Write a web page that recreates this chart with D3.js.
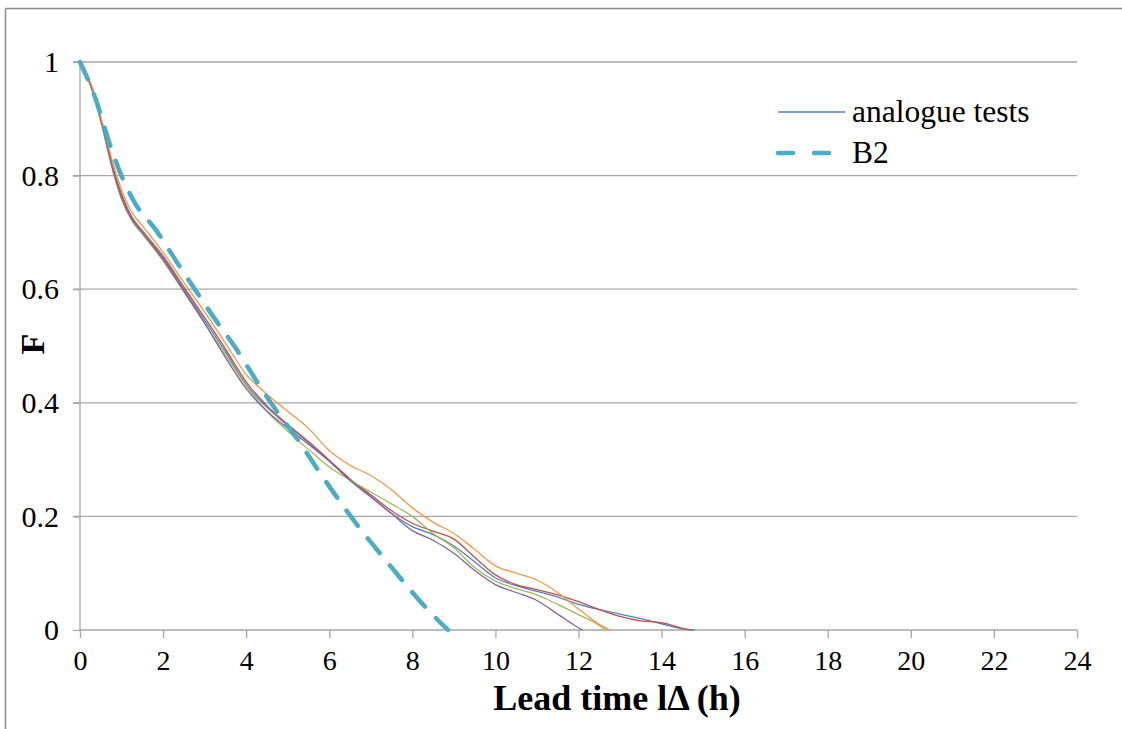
<!DOCTYPE html>
<html>
<head>
<meta charset="utf-8">
<script src="https://cdn.jsdelivr.net/npm/d3@7"></script>
<style>
  html, body { margin: 0; padding: 0; background: #fff; }
  svg { display: block; }
  text { font-family: "Liberation Serif", "Times New Roman", serif; fill: #000; }
</style>
</head>
<body>
<svg id="chart" width="1122" height="729"></svg>
<script>
// ---- data ----
const xTicks = [0, 2, 4, 6, 8, 10, 12, 14, 16, 18, 20, 22, 24];
const yTicks = [0, 0.2, 0.4, 0.6, 0.8, 1];
const yTickLabels = ["0", "0.2", "0.4", "0.6", "0.8", "1"];

const seriesNames = ["analogue test 1", "analogue test 2", "analogue test 3", "analogue test 4", "analogue test 5"];
const seriesColors = ["#4F81BD", "#C0504D", "#9BBB59", "#8064A2", "#F79646"];

const blueHours   = [0,0.3,0.55,0.8,1,1.25,1.5,2,2.5,3,3.5,4,4.5,5,5.5,6,6.5,7,7.5,8,8.5,9,9.5,10,10.5,11,11.5,12,12.5,13,13.5,14,14.5,14.8];
const blueF       = [1,0.95,0.884,0.81,0.765,0.725,0.70,0.655,0.60,0.545,0.49,0.432,0.392,0.36,0.33,0.298,0.265,0.235,0.205,0.182,0.168,0.148,0.12,0.092,0.078,0.068,0.058,0.045,0.036,0.028,0.02,0.011,0.002,0];

const redHours    = [0,0.3,0.55,0.8,1,1.25,1.5,2,2.5,3,3.5,4,4.5,5,5.5,6,6.5,7,7.5,8,8.5,9,9.5,10,10.5,11,11.5,12,12.5,13,13.5,14,14.5,14.7];
const redF        = [1,0.951,0.886,0.812,0.767,0.727,0.703,0.658,0.604,0.55,0.495,0.437,0.395,0.362,0.332,0.299,0.266,0.238,0.21,0.188,0.174,0.16,0.128,0.097,0.08,0.071,0.062,0.05,0.036,0.024,0.016,0.013,0.003,0];

const greenHours  = [0,0.3,0.55,0.8,1,1.25,1.5,2,2.5,3,3.5,4,4.5,5,5.5,6,6.5,7,7.5,8,8.5,9,9.5,10,10.5,11,11.5,12,12.5,12.65];
const greenF      = [1,0.948,0.88,0.805,0.758,0.72,0.697,0.65,0.595,0.54,0.485,0.43,0.385,0.35,0.318,0.287,0.264,0.243,0.222,0.2,0.17,0.145,0.11,0.086,0.073,0.062,0.045,0.027,0.008,0];

const purpleHours = [0,0.3,0.55,0.8,1,1.25,1.5,2,2.5,3,3.5,4,4.5,5,5.5,6,6.5,7,7.5,8,8.5,9,9.5,10,10.5,11,11.5,12,12.1];
const purpleF     = [1,0.95,0.883,0.808,0.762,0.723,0.70,0.652,0.597,0.54,0.48,0.425,0.385,0.355,0.327,0.297,0.263,0.234,0.205,0.175,0.158,0.135,0.105,0.08,0.066,0.052,0.028,0.004,0];

const orangeHours = [0,0.3,0.55,0.8,1,1.25,1.5,2,2.5,3,3.5,4,4.5,5,5.5,6,6.5,7,7.5,8,8.5,9,9.5,10,10.5,11,11.5,12,12.5,12.76];
const orangeF     = [1,0.955,0.89,0.82,0.775,0.735,0.712,0.665,0.612,0.56,0.505,0.45,0.415,0.385,0.355,0.316,0.29,0.272,0.247,0.215,0.19,0.17,0.142,0.113,0.1,0.088,0.066,0.037,0.01,0];

const b2Hours = [0,0.4,0.67,0.94,1.32,1.83,2.4,2.89,3.3,3.78,4.26,4.69,5.3,5.7,6.3,6.8,7.3,7.82,8.38,8.86];
const b2F     = [1,0.93,0.866,0.81,0.752,0.704,0.64,0.586,0.542,0.493,0.437,0.39,0.329,0.285,0.222,0.173,0.128,0.082,0.035,0];

const legendLabels = ["analogue tests", "B2"];
const b2Color = "#4BACC6";

// ---- chart ----
const svg = d3.select("#chart");
const plot = { left: 80, right: 1077, top: 62, bottom: 630 };

const x = d3.scaleLinear().domain([0, 24]).range([plot.left, plot.right]);
const y = d3.scaleLinear().domain([0, 1]).range([plot.bottom, plot.top]);

// outer frame (partially visible)
svg.append("line").attr("x1", 5.5).attr("x2", 1122).attr("y1", 8.5).attr("y2", 8.5)
  .attr("stroke", "#8c8c8c").attr("stroke-width", 1.5);
svg.append("line").attr("x1", 5.5).attr("x2", 5.5).attr("y1", 8.5).attr("y2", 729)
  .attr("stroke", "#8c8c8c").attr("stroke-width", 1.5);

// gridlines
svg.append("g").selectAll("line").data(yTicks.filter(d => d > 0)).join("line")
  .attr("x1", plot.left - 7).attr("x2", plot.right)
  .attr("y1", d => y(d)).attr("y2", d => y(d))
  .attr("stroke", "#a6a6a6").attr("stroke-width", 1.3);

// y axis
const yAxis = d3.axisLeft(y).tickValues(yTicks).tickFormat((d, i) => yTickLabels[i]).tickSize(7).tickPadding(14);
const gy = svg.append("g").attr("transform", `translate(${plot.left},0)`).call(yAxis);
gy.select(".domain").attr("stroke", "#a6a6a6").attr("stroke-width", 1.3).attr("d", `M-7,${plot.top}H0V${plot.bottom}`);
gy.selectAll(".tick line").attr("stroke", "#a6a6a6").attr("stroke-width", 1.3);
gy.selectAll(".tick text").attr("font-family", "Liberation Serif").attr("font-size", 30).attr("fill", "#000");

// x axis
const xAxis = d3.axisBottom(x).tickValues(xTicks).tickSize(8).tickPadding(12);
const gx = svg.append("g").attr("transform", `translate(0,${plot.bottom})`).call(xAxis);
gx.select(".domain").attr("stroke", "#a6a6a6").attr("stroke-width", 1.3).attr("d", `M${plot.left},0H${plot.right}`);
gx.selectAll(".tick line").attr("stroke", "#a6a6a6").attr("stroke-width", 1.3);
gx.selectAll(".tick text").attr("font-family", "Liberation Serif").attr("font-size", 28).attr("fill", "#000");

// series
const line = d3.line().x(d => x(d[0])).y(d => y(d[1])).curve(d3.curveMonotoneX);
const series = [
  [blueHours, blueF], [redHours, redF], [greenHours, greenF], [purpleHours, purpleF], [orangeHours, orangeF]
];
series.forEach((s, i) => {
  const pts = s[0].map((h, j) => [h, s[1][j]]);
  svg.append("path").datum(pts).attr("d", line)
    .attr("fill", "none").attr("stroke", seriesColors[i]).attr("stroke-width", 1.3)
    .attr("stroke-linejoin", "round");
});

// B2
const b2pts = b2Hours.map((h, j) => [h, b2F[j]]);
svg.append("path").datum(b2pts).attr("d", line)
  .attr("fill", "none").attr("stroke", b2Color).attr("stroke-width", 4.5)
  .attr("stroke-dasharray", "19 16").attr("stroke-linecap", "round");

// axis titles
svg.append("text").attr("x", 617).attr("y", 710).attr("text-anchor", "middle")
  .attr("font-size", 36).attr("font-weight", "bold").text("Lead time lΔ (h)");
svg.append("text").attr("transform", "translate(44,344) rotate(-90)").attr("text-anchor", "middle")
  .attr("font-size", 34).attr("font-weight", "bold").text("F");

// legend
const lg = svg.append("g");
lg.append("line").attr("x1", 778).attr("x2", 845).attr("y1", 112).attr("y2", 112)
  .attr("stroke", seriesColors[0]).attr("stroke-width", 1.3);
lg.append("text").attr("x", 852).attr("y", 122).attr("font-size", 31.5).text(legendLabels[0]);
lg.append("line").attr("x1", 778).attr("x2", 830).attr("y1", 153).attr("y2", 153)
  .attr("stroke", b2Color).attr("stroke-width", 4.5).attr("stroke-dasharray", "15 21").attr("stroke-linecap", "round");
lg.append("text").attr("x", 852).attr("y", 163).attr("font-size", 31.5).text(legendLabels[1]);
</script>
</body>
</html>
